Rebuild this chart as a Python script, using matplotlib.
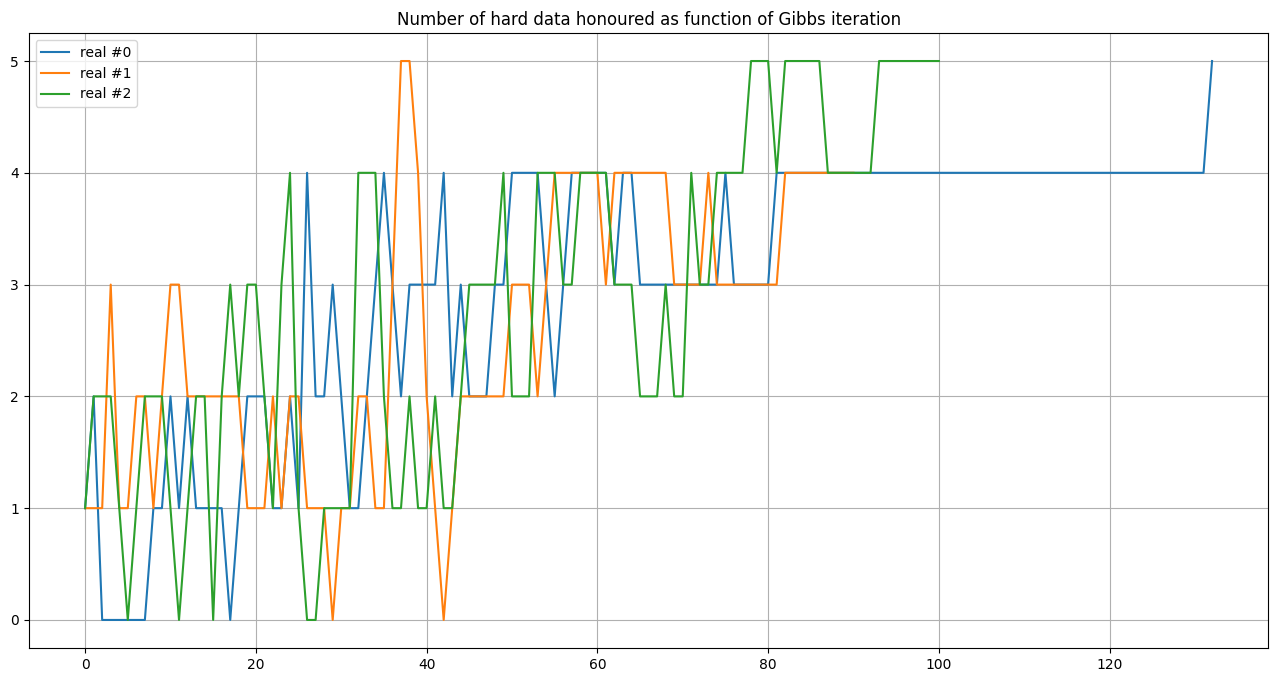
import matplotlib
matplotlib.use('Agg')
import matplotlib.pyplot as plt
import numpy as np

# number of hard data honoured per Gibbs iteration, one list per realisation
real_0 = [1, 2, 0, 0, 0, 0, 0, 0, 1, 1,
          2, 1, 2, 1, 1, 1, 1, 0, 1, 2,
          2, 2, 1, 1, 2, 1, 4, 2, 2, 3,
          2, 1, 1, 2, 3, 4, 3, 2, 3, 3,
          3, 3, 4, 2, 3, 2, 2, 2, 3, 3,
          4, 4, 4, 4, 3, 2, 3, 4, 4, 4,
          4, 4, 3, 4, 4, 3, 3, 3, 3, 3,
          3, 3, 3, 3, 3, 4, 3, 3, 3, 3,
          3] + [4] * 51 + [5]

real_1 = [1, 1, 1, 3, 1, 1, 2, 2, 1, 2,
          3, 3, 2, 2, 2, 2, 2, 2, 2, 1,
          1, 1, 2, 1, 2, 2, 1, 1, 1, 0,
          1, 1, 2, 2, 1, 1, 3, 5, 5, 4,
          2, 1, 0, 1, 2, 2, 2, 2, 2, 2,
          3, 3, 3, 2, 3, 4, 4, 4, 4, 4,
          4, 3, 4, 4, 4, 4, 4, 4, 4, 3,
          3, 3, 3, 4, 3, 3, 3, 3, 3, 3,
          3, 3, 4, 4, 4, 4, 4, 4, 4, 4,
          4]

real_2 = [1, 2, 2, 2, 1, 0, 1, 2, 2, 2,
          1, 0, 1, 2, 2, 0, 2, 3, 2, 3,
          3, 2, 1, 3, 4, 1, 0, 0, 1, 1,
          1, 1, 4, 4, 4, 2, 1, 1, 2, 1,
          1, 2, 1, 1, 2, 3, 3, 3, 3, 4,
          2, 2, 2, 4, 4, 4, 3, 3, 4, 4,
          4, 4, 3, 3, 3, 2, 2, 2, 3, 2,
          2, 4, 3, 3, 4, 4, 4, 4, 5, 5,
          5, 4, 5, 5, 5, 5, 5, 4, 4, 4,
          4, 4, 4, 5, 5, 5, 5, 5, 5, 5,
          5]

series = [real_0, real_1, real_2]
labels = ['real #0', 'real #1', 'real #2']

fig = plt.figure(figsize=(12.78, 6.82), dpi=100)
ax = fig.add_axes([0.0225, 0.05, 0.97, 0.9015])

for vals, lab in zip(series, labels):
    ax.plot(np.arange(len(vals)), vals, label=lab)

ax.set_title('Number of hard data honoured as function of Gibbs iteration')
ax.grid(True)
ax.legend(loc='upper left')

plt.savefig('out.png', dpi=100)
plt.close()
